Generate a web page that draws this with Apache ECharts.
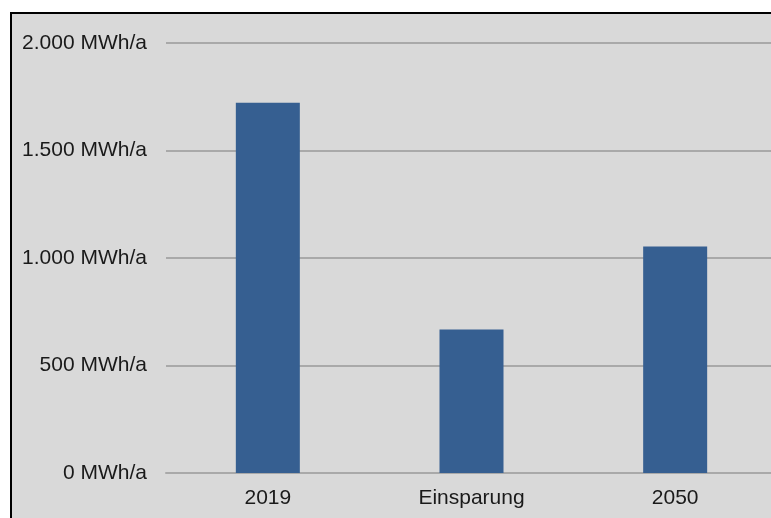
<!DOCTYPE html>
<html>
<head>
<meta charset="utf-8">
<script src="https://cdn.jsdelivr.net/npm/echarts@6/dist/echarts.min.js"></script>
<style>
  html, body { margin: 0; padding: 0; background: #ffffff; width: 771px; height: 518px; overflow: hidden; }
  #frame {
    position: absolute; left: 10px; top: 12px;
    width: 765px; height: 506px;
    border-left: 2px solid #000; border-top: 2px solid #000;
    background: #d9d9d9; overflow: hidden;
  }
  #chart { width: 765px; height: 504px; }
</style>
</head>
<body>
<div id="frame"><div id="chart"></div></div>
<script>
// Energiebedarf: Ist-Stand, Einsparung, Zielwert
const categories = ['2019', 'Einsparung', '2050'];
const values = [1722, 668, 1054];
const axisMin = 0;
const axisMax = 2000;
const axisStep = 500;
const unit = 'MWh/a';

function formatDe(v) {
  return String(v).replace(/\B(?=(\d{3})+(?!\d))/g, '.');
}

const chart = echarts.init(document.getElementById('chart'), null, { renderer: 'canvas' });
chart.setOption({
  backgroundColor: '#d9d9d9',
  animation: false,
  textStyle: { fontFamily: 'Liberation Sans, Arial, sans-serif' },
  grid: { left: 154, right: 0, top: 29, bottom: 45, containLabel: false },
  xAxis: {
    type: 'category',
    data: categories,
    axisLine: { show: true, lineStyle: { color: '#a9a9a9', width: 2 } },
    axisTick: { show: false },
    axisLabel: { color: '#1a1a1a', fontSize: 21, margin: 15 }
  },
  yAxis: {
    type: 'value',
    min: axisMin,
    max: axisMax,
    interval: axisStep,
    axisLine: { show: false },
    axisTick: { show: false },
    splitLine: { lineStyle: { color: '#a9a9a9', width: 2 } },
    axisLabel: {
      color: '#1a1a1a', fontSize: 21, margin: 19,
      formatter: v => formatDe(v) + ' ' + unit
    }
  },
  series: [{
    type: 'bar',
    data: values,
    barWidth: 64,
    itemStyle: { color: '#365f91' }
  }]
});
</script>
</body>
</html>
